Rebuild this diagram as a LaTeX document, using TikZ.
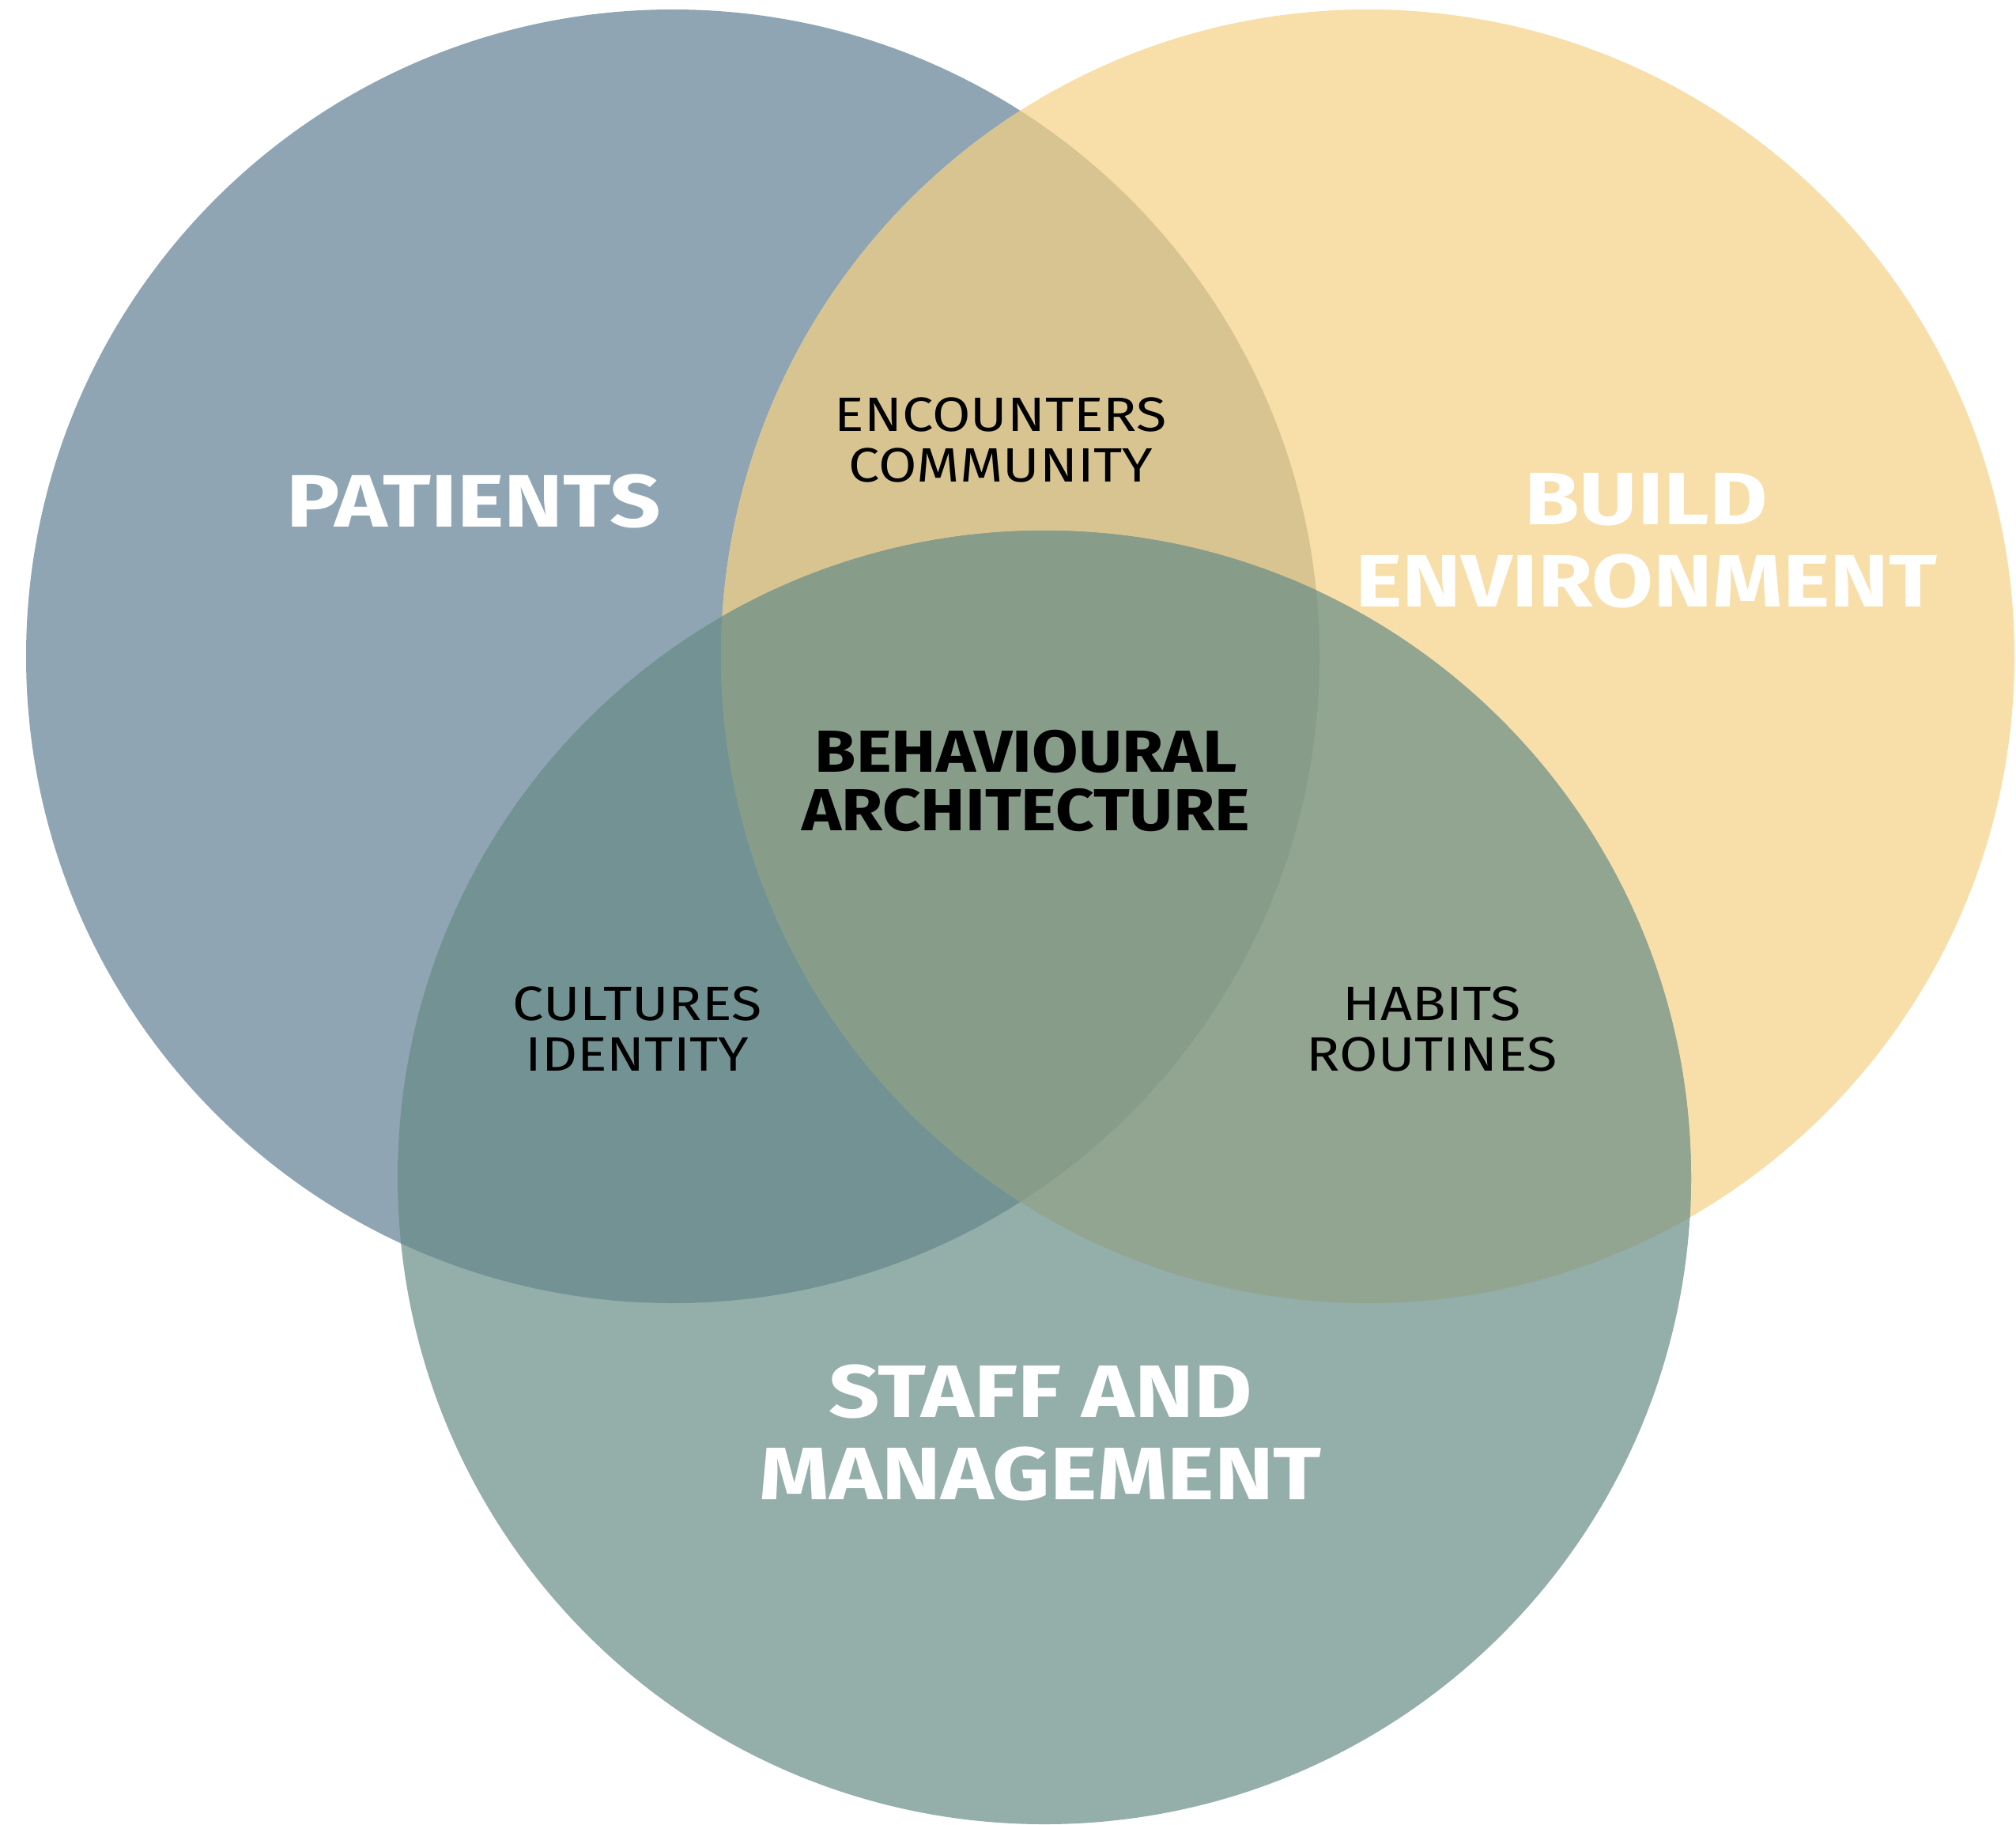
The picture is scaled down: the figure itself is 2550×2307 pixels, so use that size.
\documentclass[tikz,border=0pt]{standalone}
\usepackage{fontspec}
\setmainfont{Fira Sans}
\newfontfamily\bigfont{Fira Sans}[FakeStretch=1.2]
\newfontfamily\midfont{Fira Sans}[FakeStretch=1.13]
\newfontfamily\thinfont{Fira Sans}[FakeStretch=1.15]
\definecolor{cL}{HTML}{8FA5B3}
\definecolor{cR}{HTML}{F8DEA8}
\definecolor{cB}{HTML}{94AEAA}
\definecolor{cLR}{HTML}{D8C490}
\definecolor{cLB}{HTML}{729293}
\definecolor{cRB}{HTML}{92A591}
\definecolor{cC}{HTML}{889C8A}
\begin{document}
\begin{tikzpicture}[x=1pt,y=-1pt,
  biglabel/.style={text=white, font=\bigfont\fontsize{94}{104}\selectfont\bfseries, align=center, inner sep=0pt},
  midlabel/.style={text=black, font=\midfont\fontsize{75}{74}\selectfont\bfseries, align=center, inner sep=0pt},
  thinlabel/.style={text=black, font=\thinfont\fontsize{61}{64}\selectfont, align=center, inner sep=0pt}]
\useasboundingbox (0,0) rectangle (2550,2307);
\coordinate (L) at (851,830);
\coordinate (R) at (1730,830);
\coordinate (B) at (1321,1489);
\def\rr{818pt}
\fill[cL] (L) circle [radius=\rr];
\fill[cR] (R) circle [radius=\rr];
\fill[cB] (B) circle [radius=\rr];
\begin{scope}\clip (L) circle [radius=\rr]; \fill[cLR] (R) circle [radius=\rr];\end{scope}
\begin{scope}\clip (L) circle [radius=\rr]; \fill[cLB] (B) circle [radius=\rr];\end{scope}
\begin{scope}\clip (R) circle [radius=\rr]; \fill[cRB] (B) circle [radius=\rr];\end{scope}
\begin{scope}\clip (L) circle [radius=\rr]; \clip (R) circle [radius=\rr]; \fill[cC] (B) circle [radius=\rr];\end{scope}
\node[biglabel] (patients) at (599,634) {PATIENTS};
\node[biglabel] (build) at (2082,684) {BUILD\\ENVIRONMENT};
\node[biglabel] (staff) at (1316,1812) {STAFF AND\\MANAGEMENT};
\node[midlabel] (ba) at (1298,987) {BEHAVIOURAL\\ARCHITECTURE};
\node[thinlabel] (enc) at (1266,556) {ENCOUNTERS\\COMMUNITY};
\node[thinlabel] (cul) at (806,1301) {CULTURES\\IDENTITY};
\node[thinlabel] (hab) at (1811,1301) {HABITS\\ROUTINES};
\end{tikzpicture}
\end{document}
